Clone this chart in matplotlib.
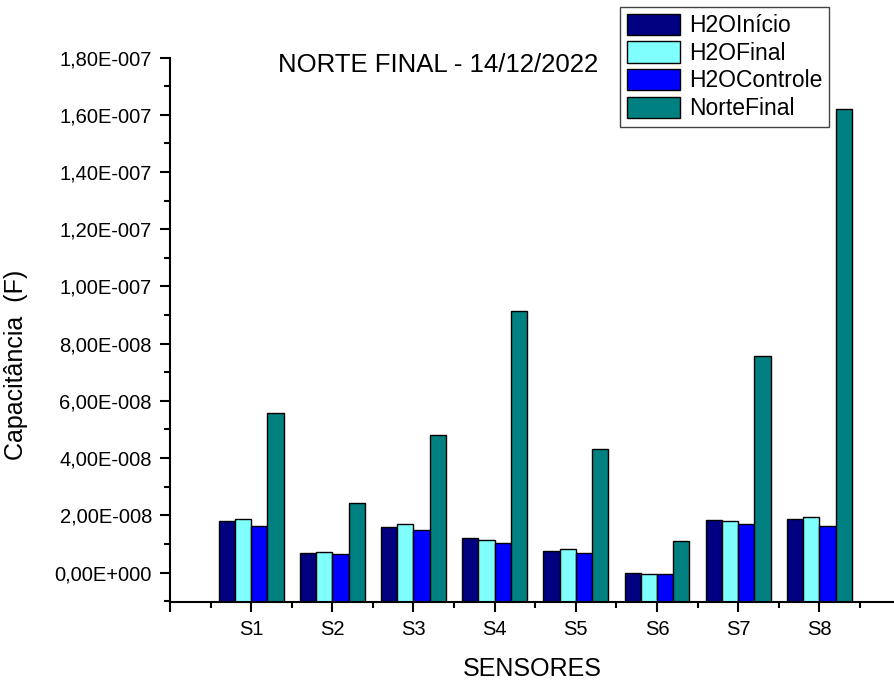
import matplotlib
matplotlib.use("Agg")
import matplotlib.pyplot as plt
import matplotlib.ticker as ticker
import numpy as np

plt.rcParams['font.family'] = ['Liberation Sans', 'DejaVu Sans']

# capacitância por sensor (F)
sensores = ['S1', 'S2', 'S3', 'S4', 'S5', 'S6', 'S7', 'S8']
h2o_inicio = np.array([1.80, 0.70, 1.58, 1.21, 0.76, 0.00, 1.85, 1.87]) * 1e-8
h2o_final = np.array([1.86, 0.72, 1.68, 1.15, 0.81, -0.05, 1.79, 1.94]) * 1e-8
h2o_controle = np.array([1.64, 0.66, 1.49, 1.03, 0.70, -0.05, 1.68, 1.61]) * 1e-8
norte_final = np.array([5.58, 2.43, 4.81, 9.15, 4.31, 1.09, 7.56, 16.19]) * 1e-8

series = [
    ('H2OInício', h2o_inicio, '#000080'),
    ('H2OFinal', h2o_final, '#80FFFF'),
    ('H2OControle', h2o_controle, '#0000FF'),
    ('NorteFinal', norte_final, '#008080'),
]

y_min, y_max = -1.03e-8, 1.8e-7


def fmt_origin(v, pos):
    # estilo Origin: 1,80E-007
    if abs(v) < 1e-20:
        return '0,00E+000'
    exp = int(np.floor(np.log10(abs(v)) + 1e-9))
    mant = v / 10 ** exp
    sinal = '-' if exp < 0 else '+'
    return f"{mant:.2f}".replace('.', ',') + f"E{sinal}{abs(exp):03d}"


fig = plt.figure(figsize=(8.94, 6.85), dpi=100)
ax = fig.add_axes([170 / 894, 83 / 685, 724 / 894, 544.4 / 685])

x = np.arange(1, len(sensores) + 1)
w = 0.2
for i, (nome, vals, cor) in enumerate(series):
    # barras partem da base do eixo, como no Origin
    ax.bar(x + (i - 1.5) * w, vals - y_min, bottom=y_min, width=w,
           color=cor, edgecolor='black', linewidth=1.0, label=nome)

ax.set_xlim(0, 8.92)
ax.set_ylim(y_min, y_max)

ax.set_xticks(np.arange(0, 9))
ax.set_xticklabels([''] + sensores)
ax.xaxis.set_minor_locator(ticker.FixedLocator(np.arange(0.5, 9, 1)))
ax.yaxis.set_major_locator(ticker.MultipleLocator(2e-8))
ax.yaxis.set_minor_locator(ticker.MultipleLocator(1e-8))
ax.yaxis.set_major_formatter(ticker.FuncFormatter(fmt_origin))

for s in ['top', 'right']:
    ax.spines[s].set_visible(False)
for s in ['left', 'bottom']:
    ax.spines[s].set_linewidth(1.5)

ax.tick_params(which='major', direction='out', length=7, width=1.5,
               labelsize=14.5, pad=6)
ax.tick_params(which='minor', direction='out', length=4, width=1.5)

ax.set_xlabel('SENSORES', fontsize=18)
ax.set_ylabel('Capacitância  (F)', fontsize=18)
ax.xaxis.set_label_coords((532 - 170) / 724, -(657 - 602) / 544.4)
ax.yaxis.set_label_coords(-(170 - 28) / 724, (602 - 365) / 544.4)

fig.text(438 / 894, 1 - 65 / 685, 'NORTE FINAL - 14/12/2022',
         fontsize=18.5, ha='center', va='center')

leg = fig.legend(loc='upper left', bbox_to_anchor=(620 / 894, 1 - 7 / 685),
                 fontsize=16.5, handlelength=2.3, handleheight=1.05,
                 labelspacing=0.18, handletextpad=0.4, borderpad=0.3,
                 borderaxespad=0, fancybox=False, framealpha=1)
leg.get_frame().set_edgecolor('#444444')
leg.get_frame().set_linewidth(1.0)

fig.savefig('out.png', dpi=100)
